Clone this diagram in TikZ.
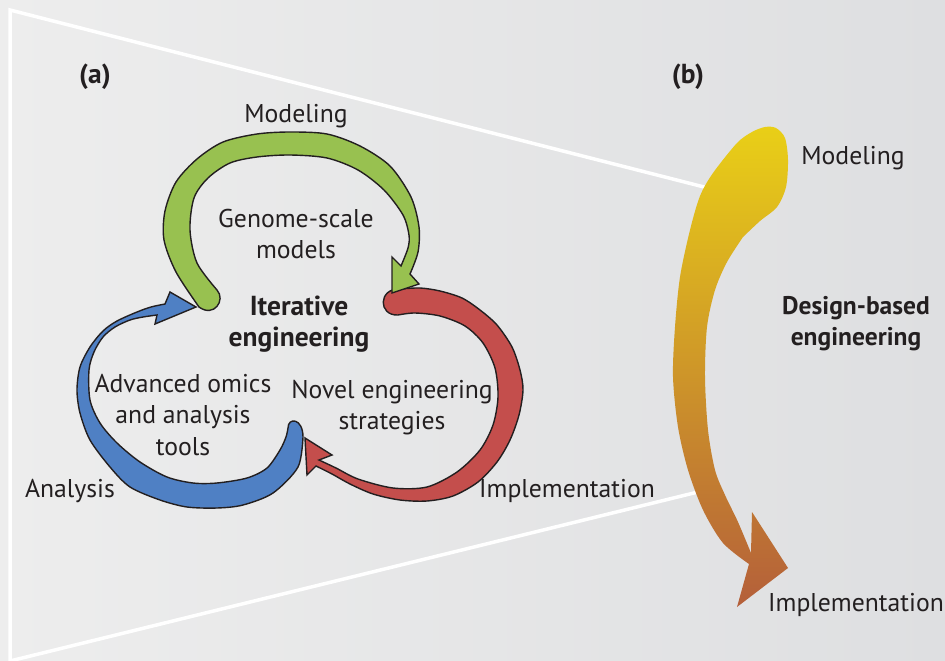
\documentclass[tikz,border=0pt]{standalone}
\usepackage{fontspec}
\setmainfont{PT Sans}
\definecolor{bgL}{HTML}{EDEDED}
\definecolor{bgR}{HTML}{DEDFE1}
\definecolor{textc}{HTML}{231F20}
\definecolor{outl}{HTML}{231F20}
\definecolor{grn}{HTML}{98C150}
\definecolor{blu}{HTML}{4F80C4}
\definecolor{redc}{HTML}{C44E4C}
\definecolor{yT}{HTML}{E9CF17}
\definecolor{yM}{HTML}{D2A031}
\definecolor{yB}{HTML}{B45F3A}
\begin{document}
\begin{tikzpicture}[x=1pt,y=-1pt,
  lbl/.style={font=\fontsize{25.7}{30}\selectfont, text=textc, inner sep=0pt, anchor=base},
  blbl/.style={font=\fontsize{27.5}{31}\selectfont\bfseries, text=textc, inner sep=0pt, anchor=base},
  bblbl/.style={font=\fontsize{25.5}{30}\selectfont\bfseries, text=textc, inner sep=0pt, anchor=base},
  arr/.style={draw=outl, line width=1.4pt, line join=miter, miter limit=6},
  frame/.style={draw=white, line width=3.5pt}
]
\useasboundingbox (0,0) rectangle (945,661);
\shade[left color=bgL, right color=bgR] (0,0) rectangle (945,661);

% white trapezoid lines
\coordinate (tl) at (10,10);
\coordinate (bl) at (10,661);
\coordinate (tr) at (708,188);
\coordinate (br) at (706,490);
\draw[frame, line join=miter] (tr) -- (tl) -- (bl);
\draw[frame] (bl) -- (br);

% (b) design-based arrow
\shade[top color=yT, middle color=yM, bottom color=yB]
  plot[smooth] coordinates {(743,237) (760,221) (777,207) (786,187) (788,160) (785,138) (776,128) (765,127) (752,132) (737,143) (713,173) (700,196) (690,230) (680,277) (675,327) (673,377) (678,427) (688,470) (703,510) (723,543) (749,564)}
  -- (737,607) -- (788,568) -- (752,512) -- (751,553)
  -- plot[smooth] coordinates {(751,553) (738,522) (725,495) (715,470) (708,430) (705,377) (707,327) (715,290) (727,262) (743,237)}
  -- cycle;

% (a) red arrow
\filldraw[arr, fill=redc]
  plot[smooth] coordinates {(400,289) (420,288) (440,291) (462,298) (480,310) (497,325) (512,347) (520,370) (523,390) (519,415) (510,440) (497,462) (478,482) (453,496) (427,501) (400,500) (373,494) (350,484) (332,474) (316,466)}
  -- (307,475) -- (305,438) -- (332,455) -- (319,460)
  -- plot[smooth] coordinates {(319,460) (336,468) (358,479) (393,488) (427,487) (457,472) (480,450) (493,425) (498,397) (495,368) (483,343) (465,326) (440,316) (415,313) (398,315)}
  .. controls (378,316) and (378,288) .. (400,289) -- cycle;

% (a) blue arrow
\filldraw[arr, fill=blu]
  plot[smooth] coordinates {(303,437) (298,467) (273,493) (243,505) (217,508) (187,507) (160,500) (130,487) (110,467) (90,440) (80,413) (77,390) (80,367) (90,347) (103,331) (117,321) (137,312) (151,307) (165,304)}
  -- (170,292) -- (196,307) -- (155,324) -- (157,315)
  -- plot[smooth] coordinates {(157,315) (143,317) (130,320) (115,327) (103,337) (94,352) (89,370) (90,400) (100,423) (117,443) (140,462) (167,477) (193,483) (217,483) (247,478) (267,468) (280,450) (286,437) (288,428)}
  .. controls (288,417) and (303,418) .. (303,437) -- cycle;

% (a) green arrow
\filldraw[arr, fill=grn]
  plot[smooth] coordinates {(199,307) (176,272) (164,240) (165,211) (176,182) (197,159) (223,142) (257,134) (290,132) (327,134) (360,146) (390,166) (411,197) (419,227) (418,252) (410,274)}
  -- (419,284) -- (392,293) -- (392,257) -- (401,266)
  -- plot[smooth] coordinates {(401,266) (408,248) (409,235) (403,215) (384,190) (358,170) (327,158) (290,155) (257,157) (230,163) (208,178) (194,198) (190,230) (197,263) (217,290)}
  .. controls (226,300) and (214,318) .. (199,307) -- cycle;

% labels
\node[blbl] (la) at (95,83) {(a)};
\node[blbl] (lb) at (688,83) {(b)};
\node[lbl] (mod) at (296,122) {Modeling};
\node[lbl] (gen1) at (296,227) {Genome-scale};
\node[lbl] (gen2) at (296,258) {models};
\node[blbl] (it1) at (299,315) {Iterative};
\node[blbl] (it2) at (299,346) {engineering};
\node[lbl] (adv1) at (183,392) {Advanced omics};
\node[lbl] (adv2) at (183,423) {and analysis};
\node[lbl] (adv3) at (183,455) {tools};
\node[lbl] (nov1) at (392,398) {Novel engineering};
\node[lbl] (nov2) at (392,429) {strategies};
\node[lbl] (ana) at (70,497) {Analysis};
\node[lbl] (imp) at (567,497) {Implementation};
\node[lbl] (modb) at (853,164) {Modeling};
\node[bblbl] (des1) at (856,314) {Design-based};
\node[bblbl] (des2) at (856,345) {engineering};
\node[lbl] (impb) at (856,611) {Implementation};
\end{tikzpicture}
\end{document}
